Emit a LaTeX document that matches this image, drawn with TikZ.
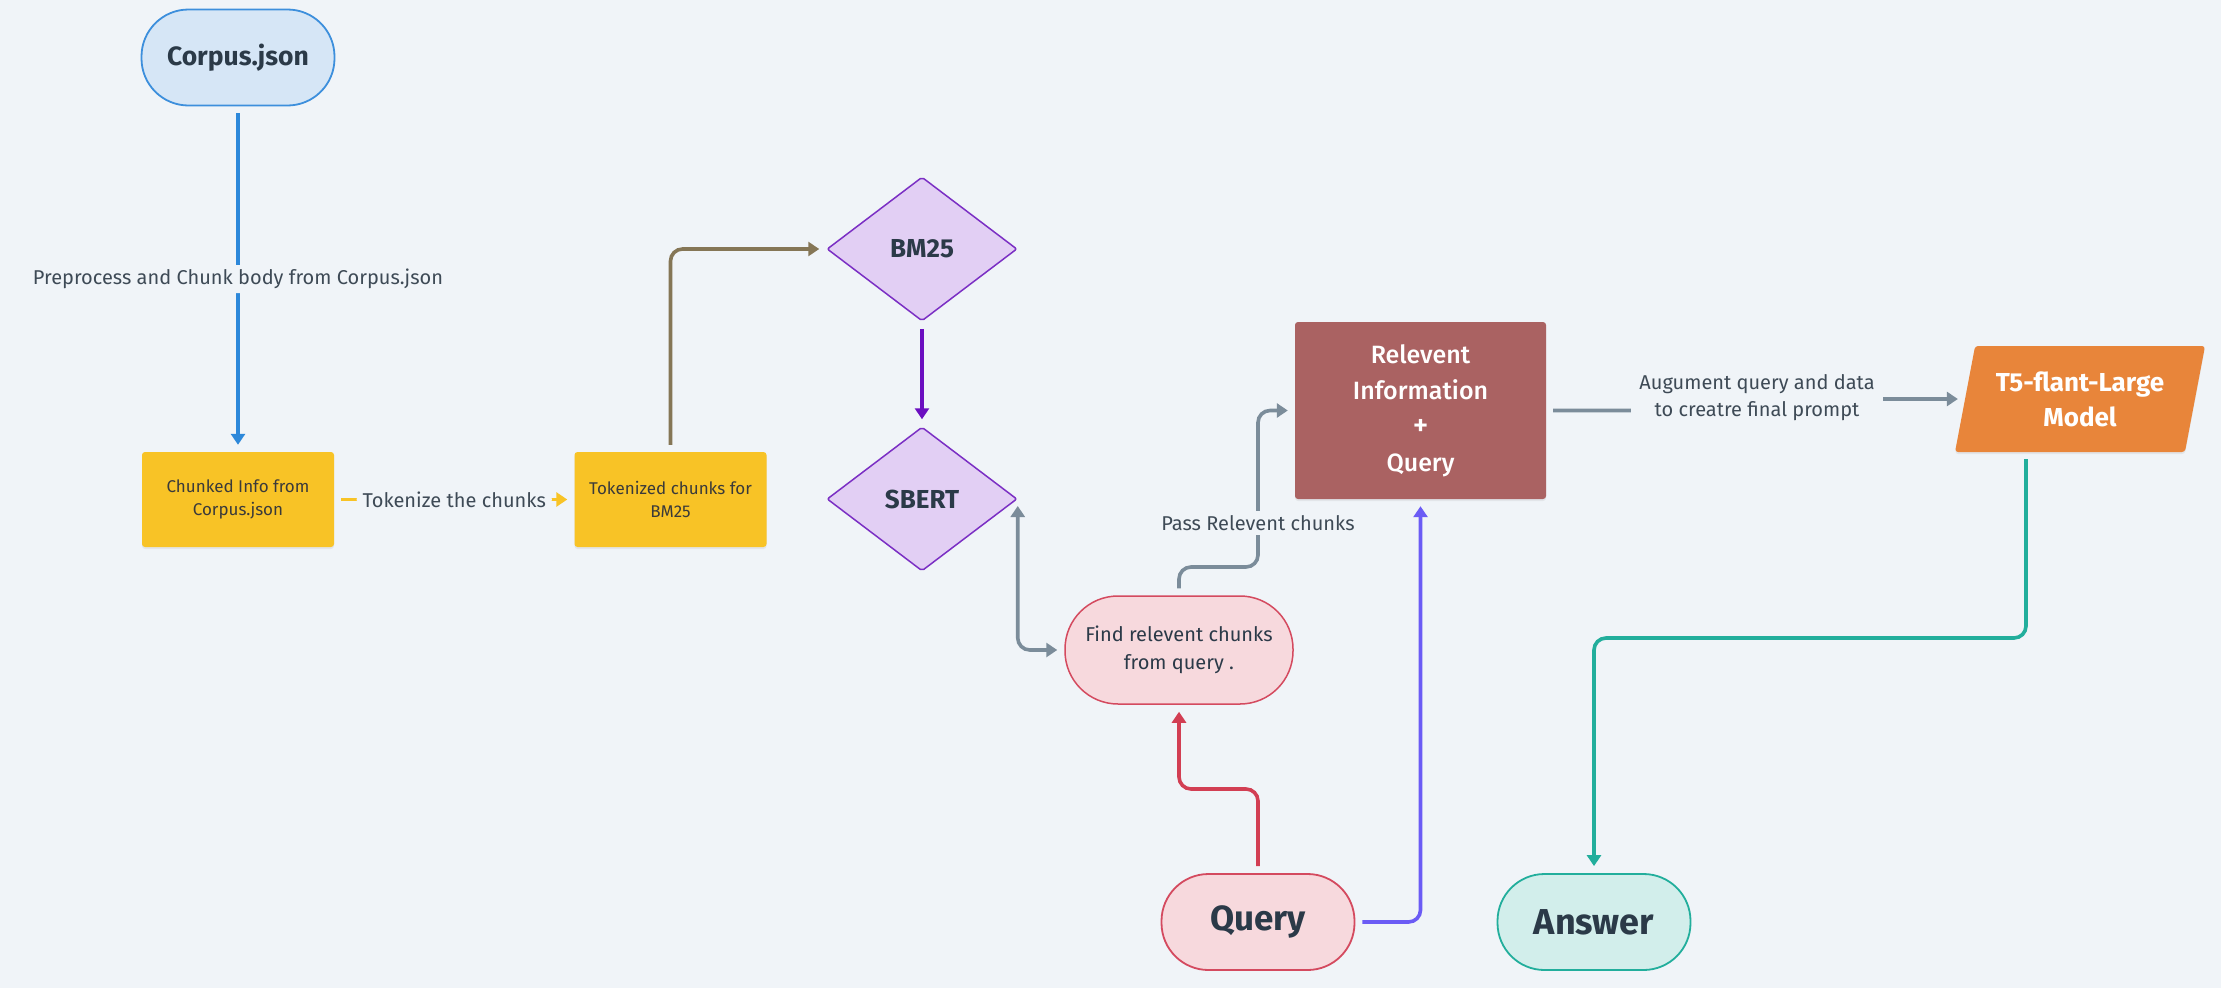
\documentclass[tikz,border=0pt]{standalone}
\usepackage{fontspec}
\setmainfont{Fira Sans}
\newfontfamily\firamed{Fira Sans Medium}
\usetikzlibrary{shapes.geometric,arrows.meta,shadows}
\definecolor{bg}{HTML}{F0F4F8}
\definecolor{corpusfill}{HTML}{D6E6F6}
\definecolor{corpusline}{HTML}{3D8FDC}
\definecolor{bluearrow}{HTML}{2D88DA}
\definecolor{yel}{HTML}{F8C326}
\definecolor{lav}{HTML}{E2CFF4}
\definecolor{purp}{HTML}{7B2FC4}
\definecolor{purparrow}{HTML}{6B0EC0}
\definecolor{grayarrow}{HTML}{7B8C9A}
\definecolor{brownarrow}{HTML}{857656}
\definecolor{pinkfill}{HTML}{F7D9DD}
\definecolor{pinkline}{HTML}{D44A5F}
\definecolor{redarrow}{HTML}{D23E53}
\definecolor{violetarrow}{HTML}{6B5BF5}
\definecolor{relred}{HTML}{AA6262}
\definecolor{orng}{HTML}{E8853A}
\definecolor{tealfill}{HTML}{D2EEEB}
\definecolor{tealline}{HTML}{22AE9C}
\definecolor{ink}{HTML}{2B3A48}
\definecolor{labink}{HTML}{3E4A56}
\definecolor{boxink}{HTML}{3A3A3A}
\begin{document}
\begin{tikzpicture}[x=1pt,y=-1pt,
  stadium/.style={draw, line width=1.8pt, rounded corners=47pt, minimum width=193pt, minimum height=96pt, text=ink},
  ybox/.style={fill=yel, rounded corners=3pt, minimum width=192pt, minimum height=95pt, align=center, text=boxink,
     font=\fontsize{17}{23}\selectfont, drop shadow={shadow xshift=0pt, shadow yshift=-2pt, opacity=0.12}},
  diam/.style={diamond, draw=purp, fill=lav, line width=1.5pt, minimum width=190pt, minimum height=144pt, aspect=1.32,
     inner sep=0pt, rounded corners=2pt, text=ink, font=\fontsize{26}{30}\selectfont\bfseries},
  arr/.style={-{Triangle[length=11pt,width=14pt]}, line width=3.6pt, shorten <=7pt, shorten >=7pt, rounded corners=12pt},
  elabel/.style={fill=bg, inner sep=4pt, text=labink, align=center, font=\fontsize{20}{27}\selectfont}
]
\fill[bg] (0,0) rectangle (2221,988);
\useasboundingbox (0,0) rectangle (2221,988);

% nodes
\node[stadium, draw=corpusline, fill=corpusfill, font=\fontsize{26.5}{30}\selectfont\bfseries] (corpus) at (238,57.5) {Corpus.json};
\node[ybox] (chunked) at (238,499.5) {Chunked Info from\\Corpus.json};
\node[ybox] (tok) at (670.5,499.5) {Tokenized chunks for\\BM25};
\node[diam] (bm) at (922,249) {BM25};
\node[diam] (sbert) at (922,499) {SBERT};
\node[stadium, draw=pinkline, fill=pinkfill, line width=1.5pt, minimum width=228pt, minimum height=108pt, rounded corners=53pt,
      align=center, font=\fontsize{20}{28}\selectfont] (find) at (1179,650) {Find relevent chunks\\from query .};
\node[fill=relred, rounded corners=3pt, minimum width=251pt, minimum height=177pt, text=white, align=center,
      font=\fontsize{25}{36}\selectfont\firamed, drop shadow={shadow xshift=0pt, shadow yshift=-2pt, opacity=0.12}] (rel) at (1420.5,410.5)
      {Relevent\\Information\\{\fontsize{30}{36}\selectfont +}\\Query};
\node[trapezium, trapezium left angle=72, trapezium right angle=108, trapezium stretches body, fill=orng,
      minimum width=250pt, minimum height=106pt, rounded corners=3pt, text=white, align=center,
      font=\fontsize{26}{35}\selectfont\bfseries, drop shadow={shadow xshift=0pt, shadow yshift=-2pt, opacity=0.12}] (t5) at (2080,399)
      {T5-flant-Large\\Model};
\node[stadium, draw=pinkline, fill=pinkfill, font=\fontsize{35}{40}\selectfont\bfseries] (query) at (1258,922) {Query};
\node[stadium, draw=tealline, fill=tealfill, font=\fontsize{36}{40}\selectfont\bfseries] (ans) at (1594,922) {Answer};

% helper coordinates
\coordinate (p1) at (1258,567);
\coordinate (q1) at (1258,789);
\coordinate (a1) at (1757,410.5);
\coordinate (a2) at (1757,399);
\coordinate (t1) at (2026,638);

% connectors
\draw[arr, draw=bluearrow, bluearrow] (corpus) -- (chunked)
  node[elabel, midway] (lprep) {Preprocess and Chunk body from Corpus.json};
\draw[arr, draw=yel, yel] (chunked) -- (tok)
  node[elabel, midway, inner xsep=6pt] (ltok) {Tokenize the chunks};
\draw[arr, draw=brownarrow, brownarrow] (tok.north) |- (bm.west);
\draw[arr, draw=purparrow, purparrow] (bm.south) -- (sbert.north);
\draw[arr, draw=grayarrow, grayarrow, {Triangle[length=11pt,width=14pt]}-{Triangle[length=11pt,width=14pt]}] (find.west) -| (sbert.east);
\draw[arr, draw=grayarrow, grayarrow] (find.north) |- (p1) |- (rel.west);
\node[elabel] (lpass) at (1258,523) {Pass Relevent chunks};
\draw[arr, draw=redarrow, redarrow] (query.north) -- (q1) -| (find.south);
\draw[arr, draw=violetarrow, violetarrow] (query.east) -| (rel.south);
\draw[arr, draw=grayarrow, grayarrow, rounded corners=0pt] (rel.east) -- (a1) -- (a2) -- (t5.west);
\node[elabel, inner xsep=8pt] (laug) at (1757,398) {Augument query and data\\to creatre final prompt};
\draw[arr, draw=tealline, tealline] ([xshift=-54pt]t5.south) -- (t1) -| (ans.north);
\end{tikzpicture}
\end{document}
